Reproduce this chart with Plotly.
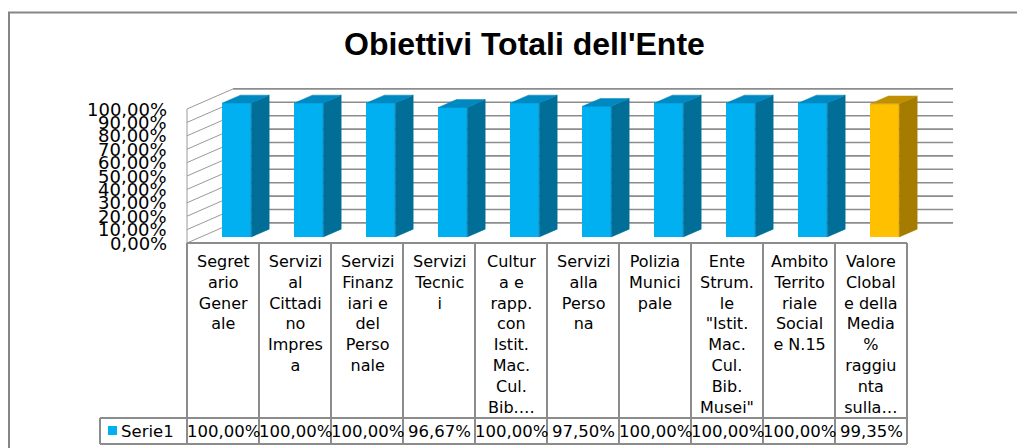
import plotly.graph_objects as go

# ---------------- data ----------------
title = "Obiettivi Totali dell'Ente"
series_name = "Serie1"
category_lines = [
    ["Segret", "ario", "Gener", "ale"],
    ["Servizi", "al", "Cittadi", "no", "Impres", "a"],
    ["Servizi", "Finanz", "iari e", "del", "Perso", "nale"],
    ["Servizi", "Tecnic", "i"],
    ["Cultur", "a e", "rapp.", "con", "Istit.", "Mac.", "Cul.", "Bib.…"],
    ["Servizi", "alla", "Perso", "na"],
    ["Polizia", "Munici", "pale"],
    ["Ente", "Strum.", "le", "\"Istit.", "Mac.", "Cul.", "Bib.", "Musei\""],
    ["Ambito", "Territo", "riale", "Social", "e N.15"],
    ["Valore", "Clobal", "e della", "Media", "%", "raggiu", "nta", "sulla…"],
]
values = [100.0, 100.0, 100.0, 96.67, 100.0, 97.50, 100.0, 100.0, 100.0, 99.35]
y_ticks = [0, 10, 20, 30, 40, 50, 60, 70, 80, 90, 100]
front_colors = ["#00B0F0"] * 9 + ["#FFC000"]
side_colors = ["#006E96"] * 9 + ["#A67C00"]
top_colors = ["#0088C0"] * 9 + ["#C09000"]


def pct(v):
    return f"{v:.2f}%".replace(".", ",")


# ---------------- layout constants (window pixels) ----------------
W, H = 1025, 448
OFF = 8                   # page body margin
X0PX, UX = 187, 72.0      # window pixel of category 0 edge, px per category
Y0PX, UY = 243, 1.34      # window pixel of 0% on front plane, px per percent
DDX, DDY = 0.64, 15.0     # depth vector (data units)
F1, F2 = 0.30, 0.69       # bar depth span (fraction of depth)
BW = 0.40                 # bar width (category units)
N = len(values)

FONT = "DejaVu Sans"
GRID = "#8C8C8C"
SIDEGRID = "#9A9A9A"


def xu(px):
    return (px - X0PX) / UX


def yp(px):
    return 1 - (px - OFF) / H


def xp(px):
    return (px - OFF) / W


fig = go.Figure()

# front faces of the bars
fig.add_trace(go.Bar(
    x=[i + 0.5 + F1 * DDX for i in range(N)],
    y=values,
    base=F1 * DDY,
    width=BW,
    marker=dict(color=front_colors, line=dict(width=0)),
    showlegend=False, hoverinfo="skip",
))

# side and top faces
dd_x = (F2 - F1) * DDX
dd_y = (F2 - F1) * DDY
for i, v in enumerate(values):
    xl = i + 0.5 + F1 * DDX - BW / 2
    xr = xl + BW
    yb = F1 * DDY
    yt = v + F1 * DDY
    fig.add_trace(go.Scatter(
        x=[xr, xr + dd_x, xr + dd_x, xr, xr],
        y=[yb, yb + dd_y, yt + dd_y, yt, yb],
        fill="toself", fillcolor=side_colors[i], mode="lines",
        line=dict(width=0.5, color=side_colors[i]),
        showlegend=False, hoverinfo="skip",
    ))
    fig.add_trace(go.Scatter(
        x=[xl, xr, xr + dd_x, xl + dd_x, xl],
        y=[yt, yt, yt + dd_y, yt + dd_y, yt],
        fill="toself", fillcolor=top_colors[i], mode="lines",
        line=dict(width=0.5, color=top_colors[i]),
        showlegend=False, hoverinfo="skip",
    ))

shapes = []
# outer chart border
shapes.append(dict(type="rect", xref="paper", yref="paper",
                   x0=xp(9), x1=1.05, y0=-0.05, y1=yp(12.5),
                   line=dict(color="#868686", width=2), layer="below"))
# back wall gridlines
for t in y_ticks:
    shapes.append(dict(type="line", xref="x", yref="y",
                       x0=DDX, x1=N + DDX, y0=t + DDY, y1=t + DDY,
                       line=dict(color=GRID, width=1.6), layer="below"))
# side wall lines
for t in y_ticks:
    shapes.append(dict(type="line", xref="x", yref="y",
                       x0=0, x1=DDX, y0=t, y1=t + DDY,
                       line=dict(color=SIDEGRID, width=1), layer="below"))
shapes.append(dict(type="line", xref="x", yref="y", x0=0, x1=0,
                   y0=0, y1=y_ticks[-1], line=dict(color=SIDEGRID, width=1),
                   layer="below"))
# floor front edge / category axis
shapes.append(dict(type="line", xref="x", yref="y", x0=0, x1=N, y0=0, y1=0,
                   line=dict(color=GRID, width=2)))
# data table: column lines
for i in range(N + 1):
    shapes.append(dict(type="line", xref="x", yref="paper", x0=i, x1=i,
                       y0=yp(Y0PX), y1=yp(444),
                       line=dict(color=GRID, width=2)))
# data table: row lines and legend cell
for py in (418, 444):
    shapes.append(dict(type="line", xref="x", yref="paper",
                       x0=xu(100), x1=N, y0=yp(py), y1=yp(py),
                       line=dict(color=GRID, width=2)))
shapes.append(dict(type="line", xref="x", yref="paper", x0=xu(100), x1=xu(100),
                   y0=yp(418), y1=yp(444), line=dict(color=GRID, width=2)))
# legend key
shapes.append(dict(type="rect", xref="x", yref="paper",
                   x0=xu(108), x1=xu(117), y0=yp(426), y1=yp(435),
                   fillcolor=front_colors[0], line=dict(width=0)))

annotations = []
annotations.append(dict(text=title, xref="paper", yref="paper",
                        x=xp(524), y=yp(44), showarrow=False,
                        xanchor="center", yanchor="middle",
                        font=dict(family="Liberation Sans", size=32,
                                  color="black", weight="bold")))
for t in y_ticks:
    annotations.append(dict(text=pct(t), xref="x", yref="y", x=xu(169), y=t,
                            showarrow=False, xanchor="right", yanchor="middle",
                            font=dict(family=FONT, size=18, color="black")))
for i, lines in enumerate(category_lines):
    annotations.append(dict(text="<br>".join(lines), xref="x", yref="paper",
                            x=i + 0.5, y=yp(250), showarrow=False,
                            xanchor="center", yanchor="top", align="center",
                            font=dict(family=FONT, size=16, color="black")))
    annotations.append(dict(text=pct(values[i]), xref="x", yref="paper",
                            x=i + 0.5, y=yp(431), showarrow=False,
                            xanchor="center", yanchor="middle",
                            font=dict(family=FONT, size=16.5, color="black")))
annotations.append(dict(text=series_name, xref="x", yref="paper",
                        x=xu(119), y=yp(431), showarrow=False,
                        xanchor="left", yanchor="middle",
                        font=dict(family=FONT, size=16.5, color="black")))

fig.update_layout(
    width=W, height=H, margin=dict(l=0, r=0, t=0, b=0),
    template="none", paper_bgcolor="white", plot_bgcolor="white",
    xaxis=dict(range=[xu(OFF), xu(OFF + W)], visible=False, fixedrange=True),
    yaxis=dict(range=[-(OFF + H - Y0PX) / UY, (Y0PX - OFF) / UY],
               visible=False, fixedrange=True),
    shapes=shapes, annotations=annotations, showlegend=False,
    bargap=0,
)

fig.write_html("out.html")
